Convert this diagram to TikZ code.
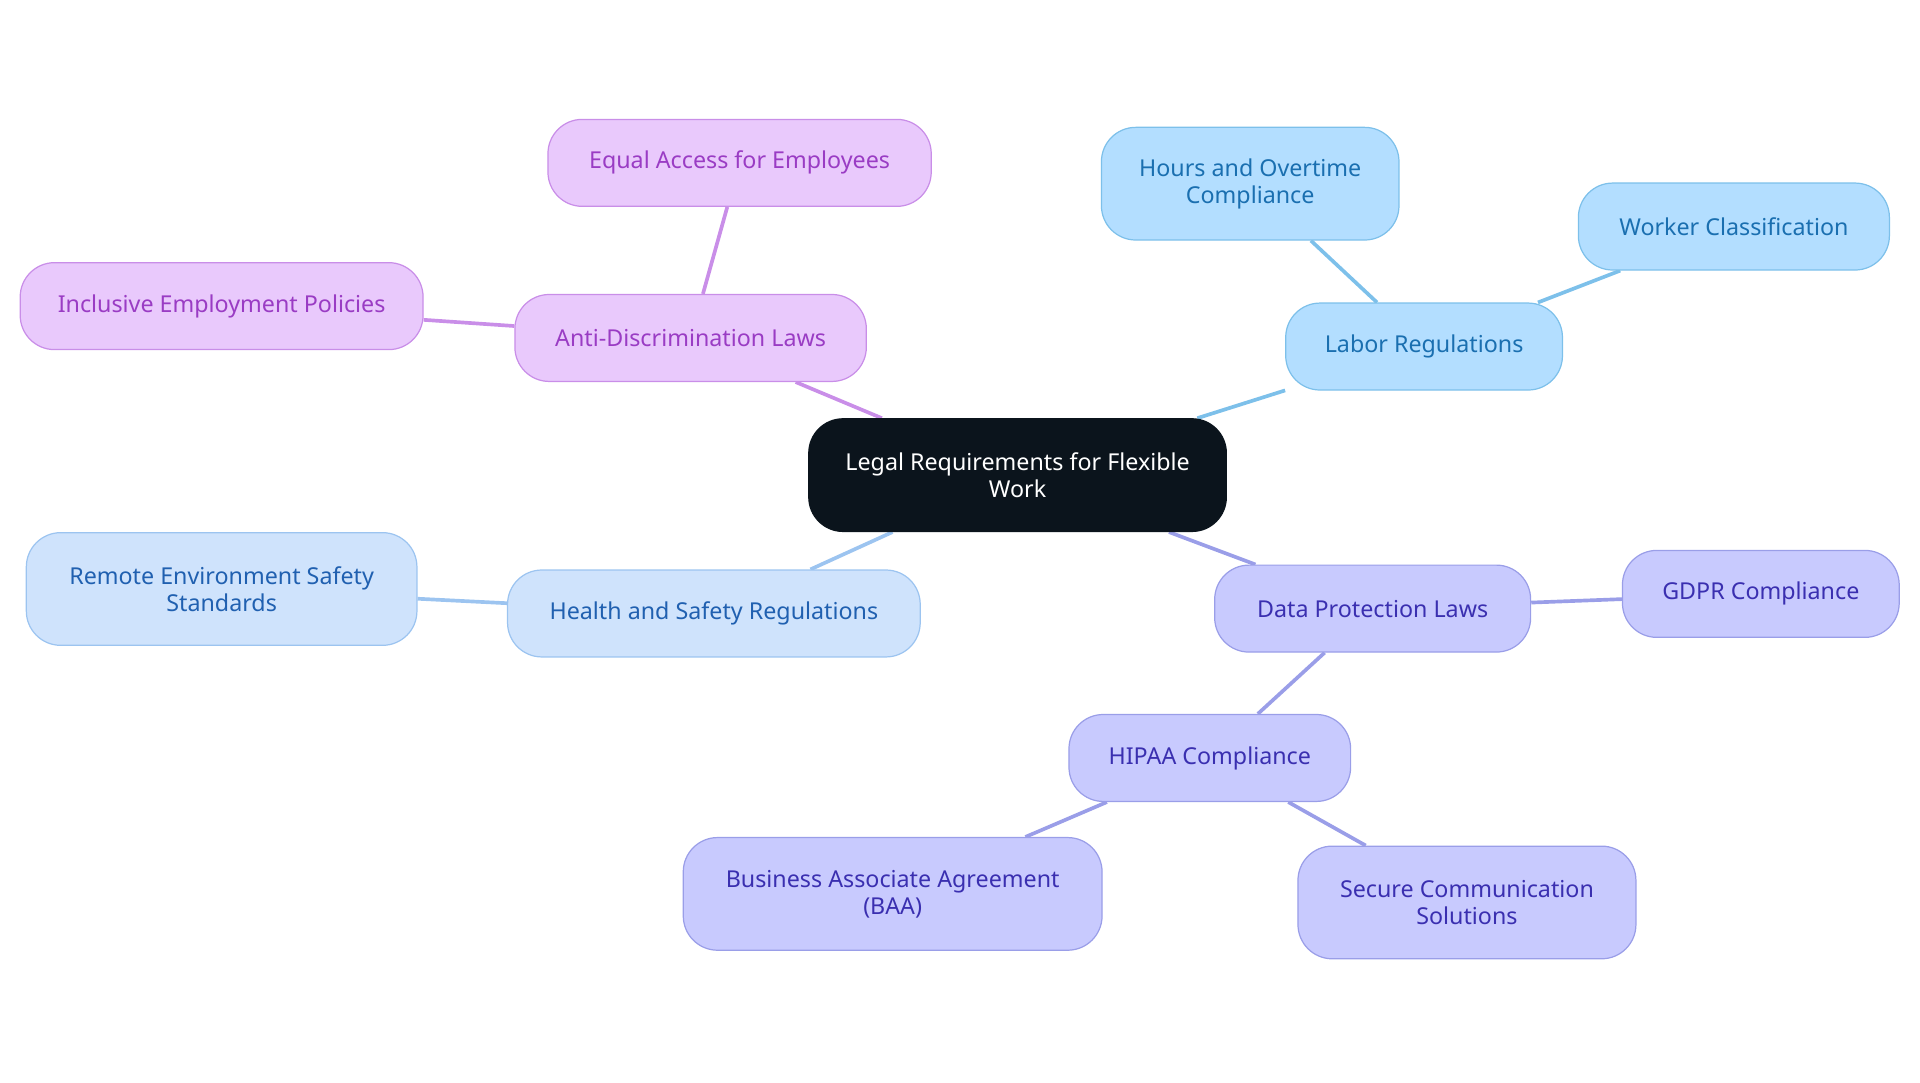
\documentclass[tikz,border=0pt]{standalone}
\usepackage{fontspec}
\setmainfont{Noto Sans}
\usetikzlibrary{positioning,backgrounds}
\definecolor{rootFill}{HTML}{0B141C}
\definecolor{antiFill}{HTML}{E9C9FC}\definecolor{antiDraw}{HTML}{C98EE8}\definecolor{antiText}{HTML}{9A3CC4}
\definecolor{laborFill}{HTML}{B3DEFF}\definecolor{laborDraw}{HTML}{7DC0EA}\definecolor{laborText}{HTML}{1A6FB0}
\definecolor{healthFill}{HTML}{CFE3FC}\definecolor{healthDraw}{HTML}{9CC4F0}\definecolor{healthText}{HTML}{2060B0}
\definecolor{dataFill}{HTML}{C8CAFE}\definecolor{dataDraw}{HTML}{9A9EE8}\definecolor{dataText}{HTML}{3A2FB0}
\begin{document}
\begin{tikzpicture}[
    x=1pt, y=-1pt,
    font=\fontsize{19}{22}\selectfont,
    box/.style   ={rounded corners=28pt,line width=1pt,align=center,minimum height=71pt,inner sep=0pt},
    tall/.style  ={minimum height=92pt},
    rootBox/.style={box,fill=rootFill,draw=rootFill,text=white},
    antiBox/.style={box,fill=antiFill,draw=antiDraw,text=antiText},
    laborBox/.style={box,fill=laborFill,draw=laborDraw,text=laborText},
    healthBox/.style={box,fill=healthFill,draw=healthDraw,text=healthText},
    dataBox/.style={box,fill=dataFill,draw=dataDraw,text=dataText},
    link/.style  ={line width=3pt},
]
\useasboundingbox (0,0) rectangle (1568,884);

% ---------- root ----------
\node[rootBox, tall, minimum width=341pt] (root) at (831,388) {Legal Requirements for Flexible\\Work};

% ---------- anti-discrimination ----------
\node[antiBox, minimum width=287pt] (anti) at (564,276) {Anti-Discrimination Laws};
\node[antiBox, minimum width=313pt] (equal) at (604,133) {Equal Access for Employees};
\node[antiBox, minimum width=329pt] (incl) at (181,250) {Inclusive Employment Policies};

% ---------- labor ----------
\node[laborBox, minimum width=226pt] (labor) at (1163,283) {Labor Regulations};
\node[laborBox, tall, minimum width=243pt] (hours) at (1021,150) {Hours and Overtime\\Compliance};
\node[laborBox, minimum width=254pt] (worker) at (1416,185) {Worker Classification};

% ---------- health ----------
\node[healthBox, minimum width=337pt] (health) at (583,501) {Health and Safety Regulations};
\node[healthBox, tall, minimum width=319pt] (remote) at (181,481) {Remote Environment Safety\\Standards};

% ---------- data protection ----------
\node[dataBox, minimum width=258pt] (data) at (1121,497) {Data Protection Laws};
\node[dataBox, minimum width=226pt] (gdpr) at (1438,485) {GDPR Compliance};
\node[dataBox, minimum width=230pt] (hipaa) at (988,619) {HIPAA Compliance};
\node[dataBox, tall, minimum width=342pt] (baa) at (729,730) {Business Associate Agreement\\(BAA)};
\node[dataBox, tall, minimum width=276pt] (secure) at (1198,737) {Secure Communication\\Solutions};

\begin{scope}[on background layer]
\draw[link,antiDraw] (root) -- (anti) (anti) -- (equal) (anti) -- (incl);
\draw[link,laborDraw] (root) -- (labor) (labor) -- (hours) (labor) -- (worker);
\draw[link,healthDraw] (root) -- (health) (health) -- (remote);
\draw[link,dataDraw] (root) -- (data) (data) -- (gdpr) (data) -- (hipaa)
  (hipaa) -- (baa) (hipaa) -- (secure);
\end{scope}
\end{tikzpicture}
\end{document}
